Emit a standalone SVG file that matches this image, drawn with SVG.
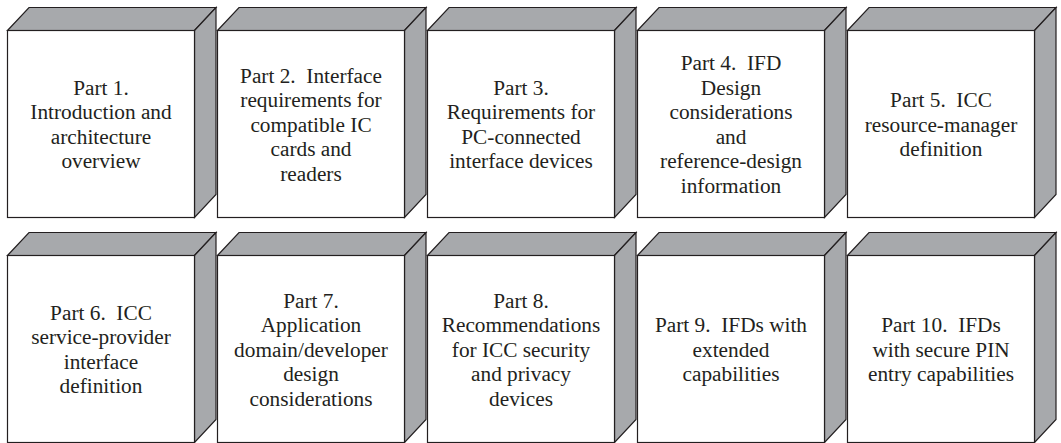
<svg xmlns="http://www.w3.org/2000/svg" xmlns:xlink="http://www.w3.org/1999/xlink" width="1061" height="443" viewBox="0 0 1061 443">
  <style>
    .face { fill: #ffffff; stroke: #231f20; stroke-width: 1.2; stroke-linejoin: miter; }
    .shade { fill: #a7a9ac; stroke: #231f20; stroke-width: 1.2; stroke-linejoin: miter; }
    .lbl { font-family: "Liberation Serif", "Times New Roman", serif; font-size: 21.3px; fill: #231f20; text-anchor: middle; }
  </style>
  <defs>
    <!-- 3-D block: front face 187x187, depth 21.5 right / 23 up -->
    <g id="block">
      <polygon class="shade" points="0,23 21.5,0 208.5,0 187,23"/>
      <polygon class="shade" points="187,23 208.5,0 208.5,187 187,210"/>
      <rect class="face" x="0" y="23" width="187" height="187"/>
    </g>
  </defs>

  <!-- top row -->
  <g id="part1" transform="translate(7.5,7.5)">
    <use xlink:href="#block"/>
    <text class="lbl" x="93.5" y="87.25">Part 1.</text>
    <text class="lbl" x="93.5" y="111.75">Introduction and</text>
    <text class="lbl" x="93.5" y="136.25">architecture</text>
    <text class="lbl" x="93.5" y="160.75">overview</text>
  </g>
  <g id="part2" transform="translate(217.5,7.5)">
    <use xlink:href="#block"/>
    <text class="lbl" x="93.5" y="75" xml:space="preserve">Part 2.  Interface</text>
    <text class="lbl" x="93.5" y="99.5">requirements for</text>
    <text class="lbl" x="93.5" y="124">compatible IC</text>
    <text class="lbl" x="93.5" y="148.5">cards and</text>
    <text class="lbl" x="93.5" y="173">readers</text>
  </g>
  <g id="part3" transform="translate(427.5,7.5)">
    <use xlink:href="#block"/>
    <text class="lbl" x="93.5" y="87.25">Part 3.</text>
    <text class="lbl" x="93.5" y="111.75">Requirements for</text>
    <text class="lbl" x="93.5" y="136.25">PC-connected</text>
    <text class="lbl" x="93.5" y="160.75">interface devices</text>
  </g>
  <g id="part4" transform="translate(637.5,7.5)">
    <use xlink:href="#block"/>
    <text class="lbl" x="93.5" y="62.75" xml:space="preserve">Part 4.  IFD</text>
    <text class="lbl" x="93.5" y="87.25">Design</text>
    <text class="lbl" x="93.5" y="111.75">considerations</text>
    <text class="lbl" x="93.5" y="136.25">and</text>
    <text class="lbl" x="93.5" y="160.75">reference-design</text>
    <text class="lbl" x="93.5" y="185.25">information</text>
  </g>
  <g id="part5" transform="translate(847.5,7.5)">
    <use xlink:href="#block"/>
    <text class="lbl" x="93.5" y="99.5" xml:space="preserve">Part 5.  ICC</text>
    <text class="lbl" x="93.5" y="124">resource-manager</text>
    <text class="lbl" x="93.5" y="148.5">definition</text>
  </g>

  <!-- bottom row -->
  <g id="part6" transform="translate(7.5,232.5)">
    <use xlink:href="#block"/>
    <text class="lbl" x="93.5" y="87.25" xml:space="preserve">Part 6.  ICC</text>
    <text class="lbl" x="93.5" y="111.75">service-provider</text>
    <text class="lbl" x="93.5" y="136.25">interface</text>
    <text class="lbl" x="93.5" y="160.75">definition</text>
  </g>
  <g id="part7" transform="translate(217.5,232.5)">
    <use xlink:href="#block"/>
    <text class="lbl" x="93.5" y="75">Part 7.</text>
    <text class="lbl" x="93.5" y="99.5">Application</text>
    <text class="lbl" x="93.5" y="124">domain/developer</text>
    <text class="lbl" x="93.5" y="148.5">design</text>
    <text class="lbl" x="93.5" y="173">considerations</text>
  </g>
  <g id="part8" transform="translate(427.5,232.5)">
    <use xlink:href="#block"/>
    <text class="lbl" x="93.5" y="75">Part 8.</text>
    <text class="lbl" x="93.5" y="99.5">Recommendations</text>
    <text class="lbl" x="93.5" y="124">for ICC security</text>
    <text class="lbl" x="93.5" y="148.5">and privacy</text>
    <text class="lbl" x="93.5" y="173">devices</text>
  </g>
  <g id="part9" transform="translate(637.5,232.5)">
    <use xlink:href="#block"/>
    <text class="lbl" x="93.5" y="99.5" xml:space="preserve">Part 9.  IFDs with</text>
    <text class="lbl" x="93.5" y="124">extended</text>
    <text class="lbl" x="93.5" y="148.5">capabilities</text>
  </g>
  <g id="part10" transform="translate(847.5,232.5)">
    <use xlink:href="#block"/>
    <text class="lbl" x="93.5" y="99.5" xml:space="preserve">Part 10.  IFDs</text>
    <text class="lbl" x="93.5" y="124">with secure PIN</text>
    <text class="lbl" x="93.5" y="148.5">entry capabilities</text>
  </g>
</svg>
